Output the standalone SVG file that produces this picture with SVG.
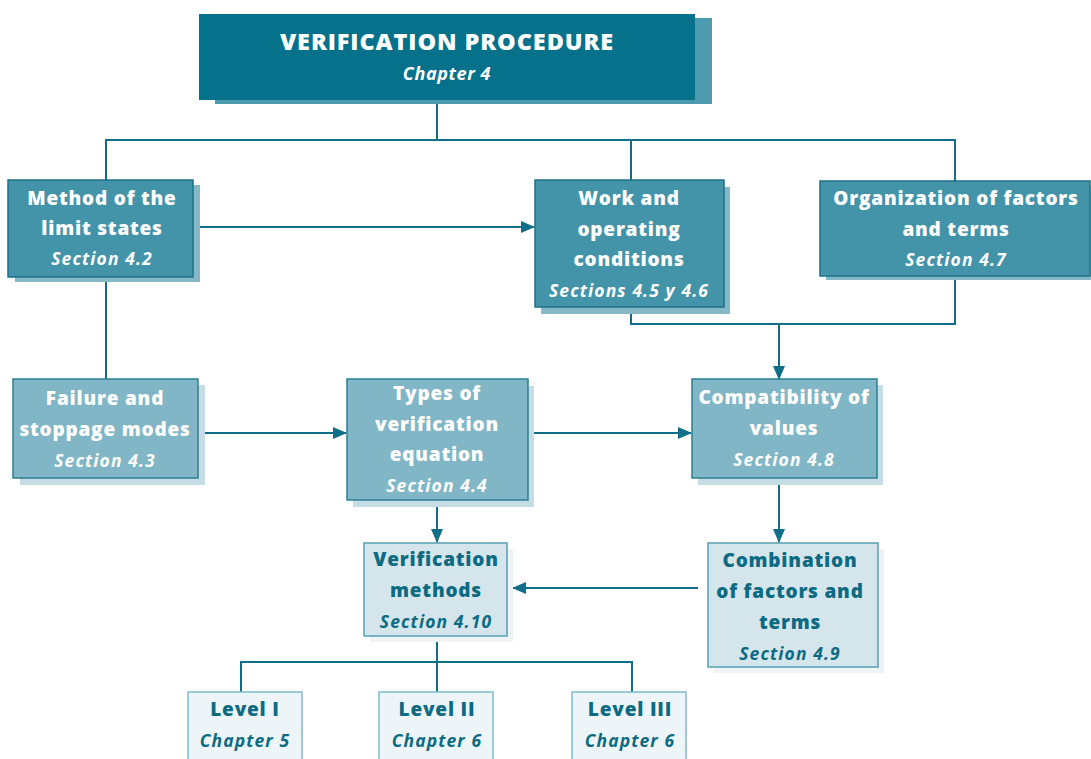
<svg xmlns="http://www.w3.org/2000/svg" width="1091" height="759" viewBox="0 0 1091 759">
  <defs>
    <marker id="arrow" markerUnits="userSpaceOnUse" markerWidth="14" markerHeight="12" refX="13" refY="6" orient="auto">
      <path d="M0,0 L14,6 L0,12 Z" fill="#0f6f88"/>
    </marker>
  </defs>
  <style>
    text { font-family: "Open Sans", "Liberation Sans", sans-serif; text-anchor: middle; }
    .h { font-weight: 800; font-size: 19px; letter-spacing: 0.8px; fill: #ffffff; }
    .s { font-weight: 700; font-style: italic; font-size: 17.5px; letter-spacing: 1.1px; fill: #ffffff; }
    .hd { font-weight: 800; font-size: 19px; letter-spacing: 0.8px; fill: #0c6b82; }
    .sd { font-weight: 700; font-style: italic; font-size: 17.5px; letter-spacing: 1.1px; fill: #0c6b82; }
    .title { font-weight: 800; font-size: 23.5px; letter-spacing: 0.9px; fill: #ffffff; }
    .dark { fill: #05718b; }
    .dark-sh { fill: #4b9aae; }
    .mid { fill: #4394a9; stroke: #1e7088; stroke-width: 1.5; }
    .mid-sh { fill: #86b9c7; }
    .light { fill: #80b6c5; stroke: #2c7e95; stroke-width: 1.5; }
    .light-sh { fill: #c5dee6; }
    .pale { fill: #d4e5eb; stroke: #55a0b5; stroke-width: 1.5; }
    .pale-sh { fill: #eef4f6; }
    .lvl { fill: #eef5f8; stroke: #7fbacb; stroke-width: 1.5; }
    .conn { fill: none; stroke: #0f6f88; stroke-width: 2; }
  </style>

  <g id="connectors">
    <path class="conn" d="M437,100 V140 M106,180 V140 H955 V182 M631,140 V180"/>
    <path class="conn" d="M200,227 H534" marker-end="url(#arrow)"/>
    <path class="conn" d="M106,277 V379"/>
    <path class="conn" d="M631,307 V324 H955 V276 M779,324 V379" marker-end="url(#arrow)"/>
    <path class="conn" d="M205,433 H346" marker-end="url(#arrow)"/>
    <path class="conn" d="M534,433 H691" marker-end="url(#arrow)"/>
    <path class="conn" d="M437,507 V542" marker-end="url(#arrow)"/>
    <path class="conn" d="M779,485 V542" marker-end="url(#arrow)"/>
    <path class="conn" d="M698,588 H513" marker-end="url(#arrow)"/>
    <path class="conn" d="M437,636 V692 M241,692 V662 H632 V692"/>
  </g>

  <g id="verification-procedure">
    <rect class="dark-sh" x="215" y="18" width="497" height="86"/>
    <rect class="dark" x="199" y="14" width="496" height="86"/>
    <text class="title" x="447" y="50">VERIFICATION PROCEDURE</text>
    <text class="s" x="447" y="80" style="font-size:18px;letter-spacing:0.6px">Chapter 4</text>
  </g>

  <g id="limit-states">
    <rect class="mid-sh" x="15" y="185" width="185" height="97"/>
    <rect class="mid" x="8" y="180" width="185" height="97"/>
    <text class="h" x="102" y="205">Method of the</text>
    <text class="h" x="102" y="235">limit states</text>
    <text class="s" x="102" y="265">Section 4.2</text>
  </g>

  <g id="operating-conditions">
    <rect class="mid-sh" x="541" y="187" width="189" height="127"/>
    <rect class="mid" x="535" y="180" width="189" height="127"/>
    <text class="h" x="629" y="205">Work and</text>
    <text class="h" x="629" y="236">operating</text>
    <text class="h" x="629" y="266">conditions</text>
    <text class="s" x="629" y="297">Sections 4.5 y 4.6</text>
  </g>

  <g id="factors-organization">
    <rect class="mid-sh" x="826" y="186" width="265" height="94"/>
    <rect class="mid" x="820" y="181" width="270" height="95"/>
    <text class="h" x="956" y="205">Organization of factors</text>
    <text class="h" x="956" y="236">and terms</text>
    <text class="s" x="956" y="266">Section 4.7</text>
  </g>

  <g id="failure-modes">
    <rect class="light-sh" x="20" y="385" width="185" height="100"/>
    <rect class="light" x="13" y="379" width="185" height="99"/>
    <text class="h" x="105" y="405">Failure and</text>
    <text class="h" x="105" y="436">stoppage modes</text>
    <text class="s" x="105" y="467">Section 4.3</text>
  </g>

  <g id="verification-equation">
    <rect class="light-sh" x="353" y="386" width="181" height="121"/>
    <rect class="light" x="347" y="379" width="181" height="121"/>
    <text class="h" x="437" y="400">Types of</text>
    <text class="h" x="437" y="431">verification</text>
    <text class="h" x="437" y="461">equation</text>
    <text class="s" x="437" y="492">Section  4.4</text>
  </g>

  <g id="values-compatibility">
    <rect class="light-sh" x="698" y="385" width="185" height="100"/>
    <rect class="light" x="692" y="379" width="185" height="99"/>
    <text class="h" x="784" y="404">Compatibility of</text>
    <text class="h" x="784" y="435">values</text>
    <text class="s" x="784" y="466">Section  4.8</text>
  </g>

  <g id="verification-methods">
    <rect class="pale-sh" x="370" y="549" width="143" height="93"/>
    <rect class="pale" x="364" y="543" width="143" height="93"/>
    <text class="hd" x="436" y="566">Verification</text>
    <text class="hd" x="436" y="597">methods</text>
    <text class="sd" x="436" y="628">Section  4.10</text>
  </g>

  <g id="factors-combination">
    <rect class="pale-sh" x="714" y="549" width="170" height="124"/>
    <rect class="pale" x="708" y="543" width="170" height="124"/>
    <text class="hd" x="790" y="567">Combination</text>
    <text class="hd" x="790" y="598">of factors and</text>
    <text class="hd" x="790" y="629">terms</text>
    <text class="sd" x="790" y="660">Section  4.9</text>
  </g>

  <g id="level-1">
    <rect class="lvl" x="188" y="692" width="114" height="70"/>
    <text class="hd" x="245" y="716">Level I</text>
    <text class="sd" x="245" y="747">Chapter 5</text>
  </g>

  <g id="level-2">
    <rect class="lvl" x="379" y="692" width="114" height="70"/>
    <text class="hd" x="437" y="716">Level II</text>
    <text class="sd" x="437" y="747">Chapter 6</text>
  </g>

  <g id="level-3">
    <rect class="lvl" x="572" y="692" width="114" height="70"/>
    <text class="hd" x="630" y="716">Level III</text>
    <text class="sd" x="630" y="747">Chapter 6</text>
  </g>
</svg>
